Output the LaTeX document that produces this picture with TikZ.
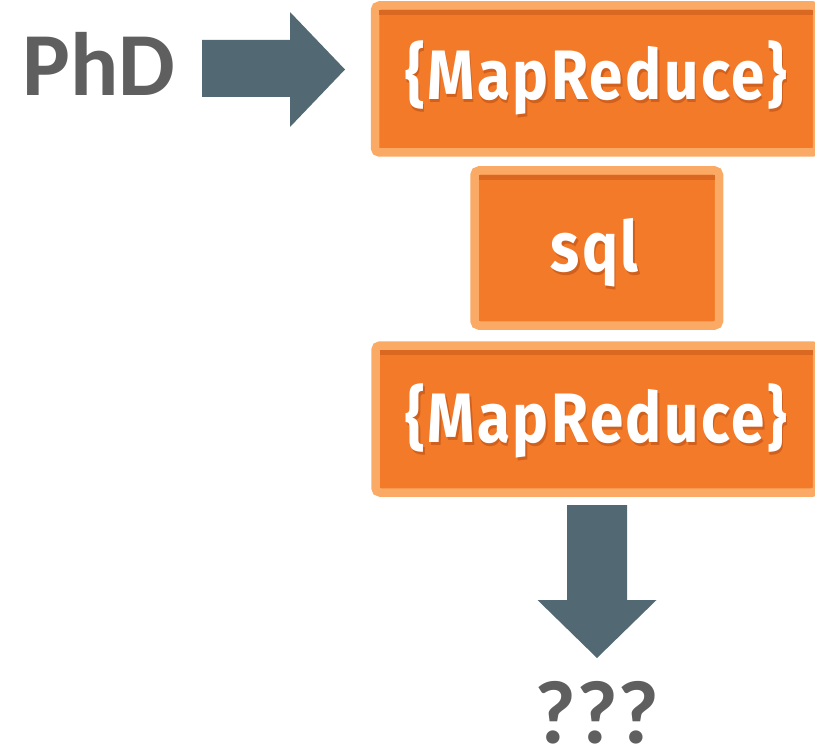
\documentclass[tikz,border=0pt]{standalone}
\usepackage{fontspec}
\newfontfamily\boxfont[FakeStretch=0.86,LetterSpace=3.6]{Fira Sans}
\newfontfamily\labfont{Carlito}
\usetikzlibrary{calc}

\definecolor{mrorange}{RGB}{242,122,40}
\definecolor{mrlight}{RGB}{250,170,100}
\definecolor{mrdark}{RGB}{218,104,32}
\definecolor{mrshadow}{RGB}{208,96,30}
\definecolor{arrowslate}{RGB}{82,104,115}
\definecolor{labgray}{RGB}{95,95,95}

\tikzset{
  mrbox/.style={rectangle, fill=mrorange, draw=mrlight, line width=8.5pt,
    rounded corners=4.5pt, outer sep=0pt, inner sep=0pt},
  mrtext/.style={text=white, inner sep=0pt, anchor=base,
    font=\boxfont\bfseries\fontsize{70}{70}\selectfont},
  mrtextshadow/.style={mrtext, text=mrshadow},
  biglabel/.style={text=labgray, inner sep=0pt, anchor=base,
    font=\labfont\bfseries\fontsize{90}{90}\selectfont},
  blockarrow/.style={fill=arrowslate}
}

\begin{document}
\begin{tikzpicture}[x=1pt,y=-1pt]
\useasboundingbox (0,0) rectangle (815,749);

% the three stacked boxes
\node[mrbox, minimum width=442pt, minimum height=147pt] (mr1) at (596,79) {};
\node[mrbox, minimum width=244.5pt, minimum height=155pt] (sql) at (596.75,248) {};
\node[mrbox, minimum width=441.5pt, minimum height=147pt] (mr2) at (596.25,419) {};

% darker band along the top of each box
\foreach \b in {mr1,sql,mr2}{
  \fill[mrdark] ($(\b.north west)+(4.25,4.25)$) rectangle ($(\b.north east)+(-4.25,9.25)$);
}

% box labels with a soft drop shadow
\node[mrtextshadow] at ($(mr1.center)+(1.5,23.5)$) {\{MapReduce\}};
\node[mrtext] (mr1text) at ($(mr1.center)+(0,20.5)$) {\{MapReduce\}};
\node[mrtextshadow] at ($(sql.center)+(-0.5,27)$) {sql};
\node[mrtext] (sqltext) at ($(sql.center)+(-2,24)$) {sql};
\node[mrtextshadow] at ($(mr2.center)+(1.5,26)$) {\{MapReduce\}};
\node[mrtext] (mr2text) at ($(mr2.center)+(0,23)$) {\{MapReduce\}};

% start and end labels
\node[biglabel] (phd) at (99,96) {PhD};
\node[biglabel] (qqq) at (597,743) {???};

% block arrows
\coordinate (phdtail) at (202,69.5);
\coordinate (phdtip) at (345,69.5);
\fill[blockarrow] ($(phdtail)+(0,-29.5)$) -- ++(88,0) -- ++(0,-28) -- (phdtip)
  -- ($(phdtail)+(88,57.5)$) -- ++(0,-30) -- ($(phdtail)+(0,27.5)$) -- cycle;

\coordinate (downtail) at (597,505);
\coordinate (downtip) at (597,658);
\fill[blockarrow] ($(downtail)+(-30,0)$) -- ++(60,0) -- ++(0,95) -- ++(29.5,0) -- (downtip)
  -- ($(downtail)+(-59.5,95)$) -- ++(29.5,0) -- cycle;
\end{tikzpicture}
\end{document}
